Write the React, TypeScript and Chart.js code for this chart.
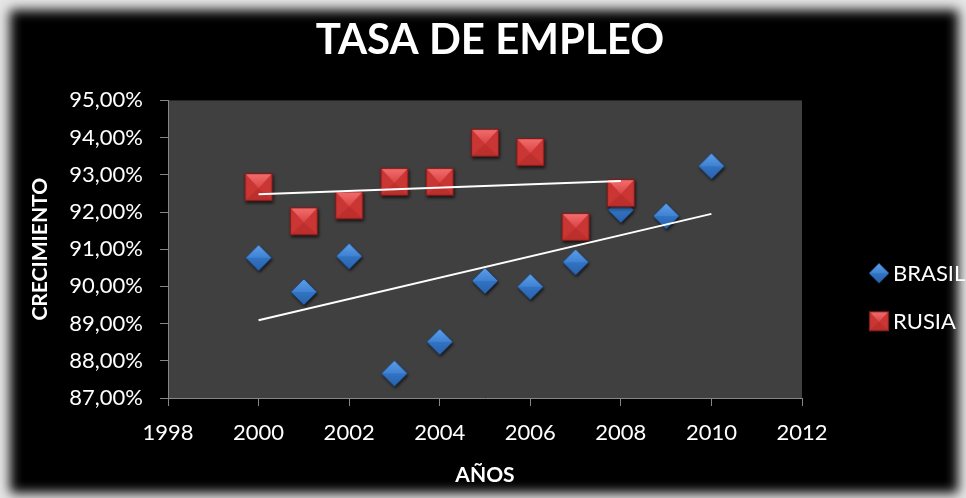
import React, { useEffect, useRef } from "react";
import { Chart, registerables } from "chart.js";

Chart.register(...registerables);

// ---- data ----
const brasilYears = [2000, 2001, 2002, 2003, 2004, 2005, 2006, 2007, 2008, 2009, 2010];
const brasilValues = [90.77, 89.85, 90.81, 87.66, 88.51, 90.15, 89.99, 90.65, 92.06, 91.89, 93.23];
const rusiaYears = [2000, 2001, 2002, 2003, 2004, 2005, 2006, 2007, 2008];
const rusiaValues = [92.67, 91.75, 92.18, 92.81, 92.81, 93.86, 93.61, 91.6, 92.51];
const brasilTrendYears = [2000, 2010];
const brasilTrendValues = [89.09, 91.95];
const rusiaTrendYears = [2000, 2008];
const rusiaTrendValues = [92.48, 92.83];
const xTickValues = [1998, 2000, 2002, 2004, 2006, 2008, 2010, 2012];
const yTickValues = [87, 88, 89, 90, 91, 92, 93, 94, 95];
const seriesNames = ["BRASIL", "RUSIA"];
const chartTitle = "TASA DE EMPLEO";
const xAxisTitle = "AÑOS";
const yAxisTitle = "CRECIMIENTO";

const FONT = "Lato";

function makeDiamond(size: number): HTMLCanvasElement {
  const m = 5;
  const c = document.createElement("canvas");
  c.width = c.height = size + 2 * m;
  const ctx = c.getContext("2d")!;
  const cx = c.width / 2;
  const h = size / 2;
  const path = () => {
    ctx.beginPath();
    ctx.moveTo(cx, cx - h);
    ctx.lineTo(cx + h, cx);
    ctx.lineTo(cx, cx + h);
    ctx.lineTo(cx - h, cx);
    ctx.closePath();
  };
  ctx.save();
  ctx.shadowColor = "rgba(0,0,0,0.7)";
  ctx.shadowBlur = 3;
  ctx.shadowOffsetX = 1;
  ctx.shadowOffsetY = 2;
  path();
  ctx.fillStyle = "#2e6cb8";
  ctx.fill();
  ctx.restore();
  let g = ctx.createLinearGradient(0, cx - h, 0, cx);
  g.addColorStop(0, "#5e9fe8");
  g.addColorStop(1, "#3f82d2");
  ctx.beginPath();
  ctx.moveTo(cx, cx - h);
  ctx.lineTo(cx + h, cx);
  ctx.lineTo(cx - h, cx);
  ctx.closePath();
  ctx.fillStyle = g;
  ctx.fill();
  g = ctx.createLinearGradient(0, cx, 0, cx + h);
  g.addColorStop(0, "#3274c4");
  g.addColorStop(1, "#2a62ab");
  ctx.beginPath();
  ctx.moveTo(cx - h, cx);
  ctx.lineTo(cx + h, cx);
  ctx.lineTo(cx, cx + h);
  ctx.closePath();
  ctx.fillStyle = g;
  ctx.fill();
  path();
  ctx.strokeStyle = "rgba(20,50,100,0.6)";
  ctx.lineWidth = 1;
  ctx.stroke();
  return c;
}

function makeSquare(size: number): HTMLCanvasElement {
  const m = 5;
  const c = document.createElement("canvas");
  c.width = c.height = size + 2 * m;
  const ctx = c.getContext("2d")!;
  const x0 = m, y0 = m, x1 = m + size, y1 = m + size;
  const cx = c.width / 2;
  const cy = m + size * 0.55;
  ctx.save();
  ctx.shadowColor = "rgba(0,0,0,0.7)";
  ctx.shadowBlur = 3;
  ctx.shadowOffsetX = 1;
  ctx.shadowOffsetY = 2;
  ctx.fillStyle = "#bf302e";
  ctx.fillRect(x0, y0, size, size);
  ctx.restore();
  const tri = (ax: number, ay: number, bx: number, by: number, fill: string | CanvasGradient) => {
    ctx.beginPath();
    ctx.moveTo(ax, ay);
    ctx.lineTo(bx, by);
    ctx.lineTo(cx, cy);
    ctx.closePath();
    ctx.fillStyle = fill;
    ctx.fill();
  };
  const g = ctx.createLinearGradient(0, y0, 0, cy);
  g.addColorStop(0, "#f47070");
  g.addColorStop(1, "#d94444");
  tri(x0, y0, x1, y0, g);
  tri(x0, y0, x0, y1, "#c93634");
  tri(x1, y0, x1, y1, "#c93634");
  tri(x0, y1, x1, y1, "#bd2f2d");
  ctx.strokeStyle = "#7c1d1c";
  ctx.lineWidth = 1.2;
  ctx.strokeRect(x0 + 0.5, y0 + 0.5, size - 1, size - 1);
  return c;
}

export default function App() {
  const ref = useRef<HTMLCanvasElement | null>(null);

  useEffect(() => {
    if (!ref.current) return;
    const diamond = makeDiamond(26);
    const square = makeSquare(28);
    const legendDiamond = makeDiamond(20);
    const legendSquare = makeSquare(20);

    const plotBg = {
      id: "plotBg",
      beforeDraw(chart: any) {
        const { ctx, chartArea } = chart;
        ctx.save();
        ctx.fillStyle = "#404040";
        ctx.fillRect(chartArea.left, chartArea.top, chartArea.right - chartArea.left, chartArea.bottom - chartArea.top);
        ctx.restore();
      },
    };

    const customLegend = {
      id: "customLegend",
      afterDraw(chart: any) {
        const { ctx, chartArea } = chart;
        const mid = (chartArea.top + chartArea.bottom) / 2;
        const sprites = [legendDiamond, legendSquare];
        ctx.save();
        ctx.font = `22px ${FONT}`;
        ctx.fillStyle = "#ffffff";
        ctx.textBaseline = "middle";
        ctx.textAlign = "left";
        seriesNames.forEach((name, i) => {
          const y = mid + 24 + i * 48;
          const x = chartArea.right + 77;
          const s = sprites[i];
          ctx.drawImage(s, x - s.width / 2, y - s.height / 2);
          ctx.fillText(name, x + 14, y + 1);
        });
        ctx.restore();
      },
    };

    const axisColor = "#868686";

    const chart = new Chart(ref.current, {
      type: "scatter",
      data: {
        datasets: [
          {
            label: "trend BRASIL",
            type: "line",
            data: brasilTrendYears.map((x, i) => ({ x, y: brasilTrendValues[i] })),
            borderColor: "#ffffff",
            borderWidth: 2,
            pointRadius: 0,
            fill: false,
            order: -1,
          } as any,
          {
            label: "trend RUSIA",
            type: "line",
            data: rusiaTrendYears.map((x, i) => ({ x, y: rusiaTrendValues[i] })),
            borderColor: "#ffffff",
            borderWidth: 2,
            pointRadius: 0,
            fill: false,
            order: -1,
          } as any,
          {
            label: seriesNames[1],
            data: rusiaYears.map((x, i) => ({ x, y: rusiaValues[i] })),
            pointStyle: square as any,
            pointRadius: 14,
            order: 0,
          },
          {
            label: seriesNames[0],
            data: brasilYears.map((x, i) => ({ x, y: brasilValues[i] })),
            pointStyle: diamond as any,
            pointRadius: 13,
            order: 1,
          },
        ],
      },
      options: {
        animation: false,
        responsive: false,
        events: [],
        layout: { padding: 0 },
        plugins: {
          legend: { display: false },
          tooltip: { enabled: false },
          title: {
            display: true,
            text: chartTitle,
            color: "#ffffff",
            font: { family: FONT, size: 42, weight: "bold" },
            padding: { top: 15, bottom: 35 },
          },
        },
        scales: {
          x: {
            type: "linear",
            min: xTickValues[0],
            max: xTickValues[xTickValues.length - 1],
            afterBuildTicks: (scale: any) => {
              scale.ticks = xTickValues.map((v) => ({ value: v }));
            },
            ticks: {
              color: "#ffffff",
              font: { family: FONT, size: 22 },
              padding: 14,
              maxRotation: 0,
              autoSkip: false,
              callback: (v: any) => String(v),
            },
            grid: { drawOnChartArea: false, drawTicks: true, tickLength: 8, color: axisColor },
            border: { display: true, color: axisColor, width: 1 },
            title: {
              display: true,
              text: xAxisTitle,
              color: "#ffffff",
              font: { family: FONT, size: 21, weight: "bold" },
              padding: { top: 0, bottom: 10 },
            },
            afterFit: (scale: any) => {
              scale.height = 100;
            },
          },
          y: {
            type: "linear",
            min: yTickValues[0],
            max: yTickValues[yTickValues.length - 1],
            afterBuildTicks: (scale: any) => {
              scale.ticks = yTickValues.map((v) => ({ value: v }));
            },
            ticks: {
              color: "#ffffff",
              font: { family: FONT, size: 22 },
              padding: 17,
              autoSkip: false,
              callback: (v: any) => `${Number(v).toFixed(2).replace(".", ",")}%`,
            },
            grid: { drawOnChartArea: false, drawTicks: true, tickLength: 8, color: axisColor },
            border: { display: true, color: axisColor, width: 1 },
            title: {
              display: true,
              text: yAxisTitle,
              color: "#ffffff",
              font: { family: FONT, size: 21, weight: "bold" },
              padding: { top: 14, bottom: 0 },
            },
            afterFit: (scale: any) => {
              scale.width = 154;
            },
          },
          yRight: {
            type: "linear",
            position: "right",
            display: true,
            min: yTickValues[0],
            max: yTickValues[yTickValues.length - 1],
            grid: { display: false, drawTicks: false },
            border: { display: false },
            ticks: { display: false },
            afterFit: (scale: any) => {
              scale.width = 164;
            },
          },
        },
      } as any,
      plugins: [plotBg, customLegend],
    });
    return () => chart.destroy();
  }, []);

  return (
    <div style={{ position: "fixed", left: 0, top: 0, width: 966, height: 498, background: "#e6e6e6", overflow: "hidden" }}>
      <div
        style={{
          position: "absolute",
          left: 10,
          top: 10,
          width: 948,
          height: 483,
          background: "#000",
          filter: "blur(6px)",
        }}
      />
      <canvas
        ref={ref}
        width={952}
        height={498}
        style={{ position: "absolute", left: 14, top: 0, width: 952, height: 498, display: "block" }}
      />
    </div>
  );
}
